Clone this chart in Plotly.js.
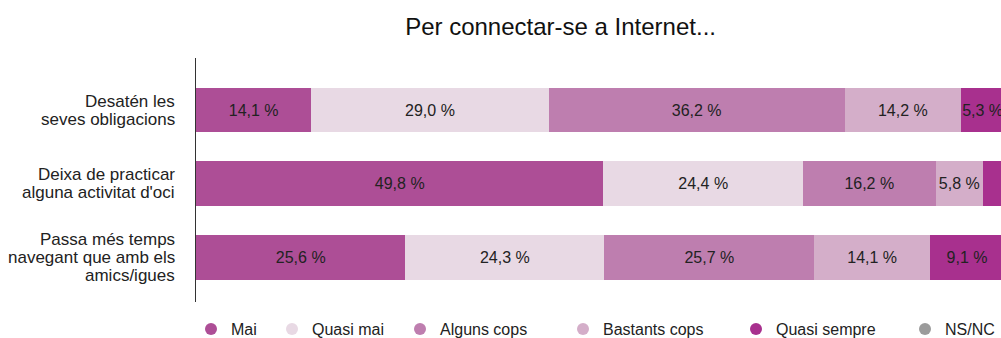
<!DOCTYPE html>
<html>
<head>
<meta charset="utf-8">
<script src="https://cdn.plot.ly/plotly-3.0.1.min.js"></script>
<style>html,body{margin:0;padding:0;background:#fff;}#chart{width:1001px;height:338px;}</style>
</head>
<body>
<div id="chart"></div>
<script>
const categories = ["Desatén les<br>seves obligacions", "Deixa de practicar<br>alguna activitat d'oci", "Passa més temps<br>navegant que amb els<br>amics/igues"];
const seriesNames = ["Mai", "Quasi mai", "Alguns cops", "Bastants cops", "Quasi sempre", "NS/NC"];
const mai = [14.1, 49.8, 25.6];
const quasiMai = [29.0, 24.4, 24.3];
const algunsCops = [36.2, 16.2, 25.7];
const bastantsCops = [14.2, 5.8, 14.1];
const quasiSempre = [5.3, 3.2, 9.1];
const nsnc = [1.2, 0.6, 1.2];
const colors = ["#AD4E96", "#E8D9E4", "#BE7EAF", "#D4AEC9", "#A8308E", "#9B9B9B"];

const FONT = 'Liberation Sans, Arial, Helvetica, sans-serif';
const allSeries = [mai, quasiMai, algunsCops, bastantsCops, quasiSempre, nsnc];
const fmt = v => v >= 5 ? v.toFixed(1).replace('.', ',') + ' %' : '';

const traces = [];
allSeries.forEach((vals, i) => {
  traces.push({
    type: 'bar', orientation: 'h', name: seriesNames[i],
    y: categories, x: vals,
    marker: {color: colors[i], line: {width: 0}},
    text: vals.map(fmt), textposition: 'inside', insidetextanchor: 'middle', textangle: 0,
    textfont: {family: FONT, size: 16, color: '#222'},
    constraintext: 'none', cliponaxis: true,
    hoverinfo: 'x+name', showlegend: false
  });
});

// legend: one small legend per series so each entry sits where the reference has it
const legendMarkerX = [212, 293, 421, 584, 757, 926];
const layoutLegends = {};
seriesNames.forEach((n, i) => {
  const key = i === 0 ? 'legend' : 'legend' + (i + 1);
  traces.push({
    type: 'scatter', mode: 'markers', name: n, x: [null], y: [null],
    marker: {symbol: 'circle', size: 14, color: colors[i]},
    showlegend: true, hoverinfo: 'skip', legend: key
  });
  layoutLegends[key] = {
    orientation: 'h', xref: 'container', yref: 'container',
    x: (legendMarkerX[i] - 21) / 1001, xanchor: 'left',
    y: 9 / 338, yanchor: 'middle',
    font: {family: FONT, size: 16, color: '#222'},
    itemsizing: 'constant', bgcolor: 'rgba(0,0,0,0)', borderwidth: 0
  };
});

// category labels drawn line by line (tighter line spacing than Plotly's tick labels)
const LINE = 18;
const annotations = [];
categories.forEach((c, ci) => {
  const lines = c.split('<br>');
  lines.forEach((ln, li) => {
    annotations.push({
      xref: 'paper', yref: 'y', x: 0, y: c, xanchor: 'right', yanchor: 'middle',
      xshift: -19, yshift: ((lines.length - 1) / 2 - li) * LINE,
      text: ln, showarrow: false, align: 'right',
      font: {family: FONT, size: 17, color: '#222'}
    });
  });
});

const layout = Object.assign({
  width: 1001, height: 338,
  margin: {l: 196, r: 0, t: 58, b: 36, pad: 0},
  barmode: 'stack', bargap: 0.39,
  paper_bgcolor: '#fff', plot_bgcolor: '#fff',
  font: {family: FONT, size: 16, color: '#222'},
  title: {text: 'Per connectar-se a Internet...', x: 0.56, xanchor: 'center', y: 0.92, yanchor: 'middle',
          font: {family: FONT, size: 24, color: '#111'}},
  xaxis: {range: [0, 98.4], showgrid: false, zeroline: false, showticklabels: false, showline: false, fixedrange: true},
  yaxis: {autorange: false, range: [2.61, -0.707], type: 'category', showgrid: false, zeroline: false,
          showline: true, linecolor: '#333', linewidth: 1.5, ticks: '', showticklabels: false},
  showlegend: true,
  annotations: annotations
}, layoutLegends);

Plotly.newPlot('chart', traces, layout, {displayModeBar: false, staticPlot: true});
</script>
</body>
</html>
